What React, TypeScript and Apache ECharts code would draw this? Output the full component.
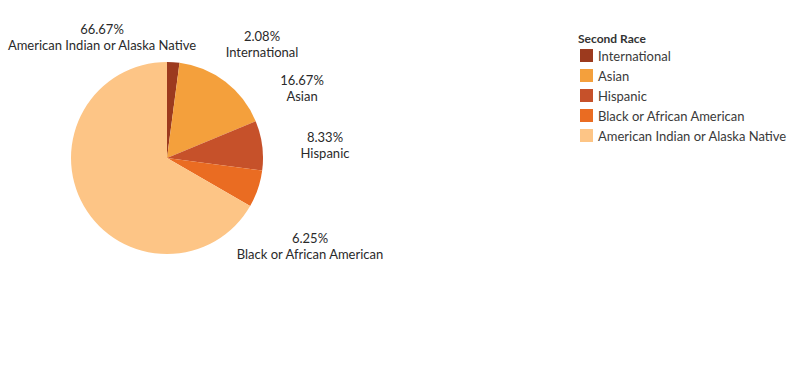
import React, { useEffect, useRef } from "react";
import * as echarts from "echarts";

const categories = [
  "International",
  "Asian",
  "Hispanic",
  "Black or African American",
  "American Indian or Alaska Native",
];
const counts = [1, 8, 4, 3, 32];
const colors = ["#9c3a1e", "#f4a03c", "#c6512a", "#ea6c22", "#fdc586"];
const labelPos: [number, number][] = [
  [262, 44],
  [302, 88],
  [325, 145],
  [310, 246],
  [102, 37],
];

export default function App() {
  const ref = useRef<HTMLDivElement>(null);
  useEffect(() => {
    if (!ref.current) return;
    const chart = echarts.init(ref.current, null, { renderer: "svg" });
    const font = "Lato, 'Open Sans', sans-serif";
    chart.setOption({
      animation: false,
      backgroundColor: "#ffffff",
      title: {
        text: "Second Race",
        left: 573,
        top: 27,
        textStyle: { fontFamily: font, fontSize: 12, fontWeight: "bold", color: "#333333" },
      },
      legend: {
        orient: "vertical",
        left: 575,
        top: 44,
        icon: "rect",
        itemWidth: 13,
        itemHeight: 13,
        itemGap: 7,
        data: categories,
        textStyle: { fontFamily: font, fontSize: 13, color: "#3a3a3a" },
      },
      series: [
        {
          type: "pie",
          center: [167, 158],
          radius: 96,
          startAngle: 90,
          clockwise: true,
          percentPrecision: 2,
          data: categories.map((c, i) => ({
            name: c,
            value: counts[i],
            itemStyle: { color: colors[i] },
          })),
          label: {
            show: true,
            position: "outside",
            formatter: "{d}%\n{b}",
            fontFamily: font,
            fontSize: 13,
            lineHeight: 16,
            color: "#2a2a2a",
            align: "center",
            overflow: "none",
            alignTo: "none",
          },
          labelLine: { show: false },
          labelLayout: (params: any) => {
            const p = labelPos[params.dataIndex];
            return { x: p[0], y: p[1], align: "center", verticalAlign: "middle" };
          },
          emphasis: { disabled: true },
        },
      ],
    });
    return () => chart.dispose();
  }, []);
  return (
    <div
      ref={ref}
      style={{ position: "fixed", left: 0, top: 0, width: 811, height: 368 }}
    />
  );
}
